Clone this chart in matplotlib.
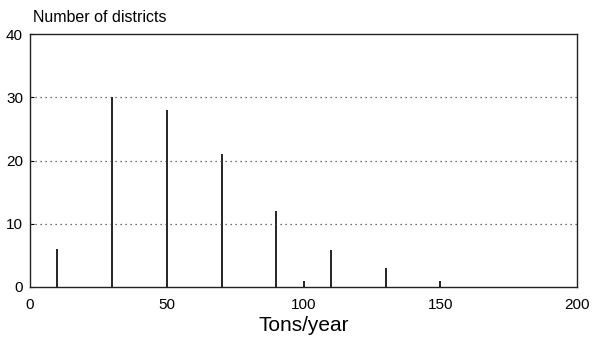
import matplotlib
matplotlib.use("Agg")
import matplotlib.pyplot as plt

plt.rcParams['font.family'] = ['Liberation Sans', 'DejaVu Sans']

# tons/year classes and number of districts
tons = [10, 30, 50, 70, 90, 100, 110, 130, 150]
districts = [6, 30, 28, 21, 12, 0.9, 5.8, 3, 1]

fig = plt.figure(figsize=(6, 3.52), dpi=100)
ax = fig.add_axes([0.05, 0.185, 0.912, 0.718])

ax.vlines(tons, 0, districts, color='k', linewidth=1.2)

ax.set_xlim(0, 200)
ax.set_ylim(0, 40)
ax.set_xticks([0, 50, 100, 150, 200])
ax.set_yticks([0, 10, 20, 30, 40])
for y in [10, 20, 30]:
    ax.axhline(y, color='#444444', linestyle=(0, (1, 3)), linewidth=0.9)

ax.tick_params(axis='both', labelsize=11, length=0, pad=8)
ax.tick_params(axis='y', direction='in', length=3, pad=5)
for s in ax.spines.values():
    s.set_linewidth(1.0)
    s.set_color('#222222')

ax.set_xlabel('Tons/year', fontsize=15, labelpad=3)
fig.text(0.055, 0.93, 'Number of districts', fontsize=11.5, ha='left', va='bottom')

plt.savefig('out.png', dpi=100)
